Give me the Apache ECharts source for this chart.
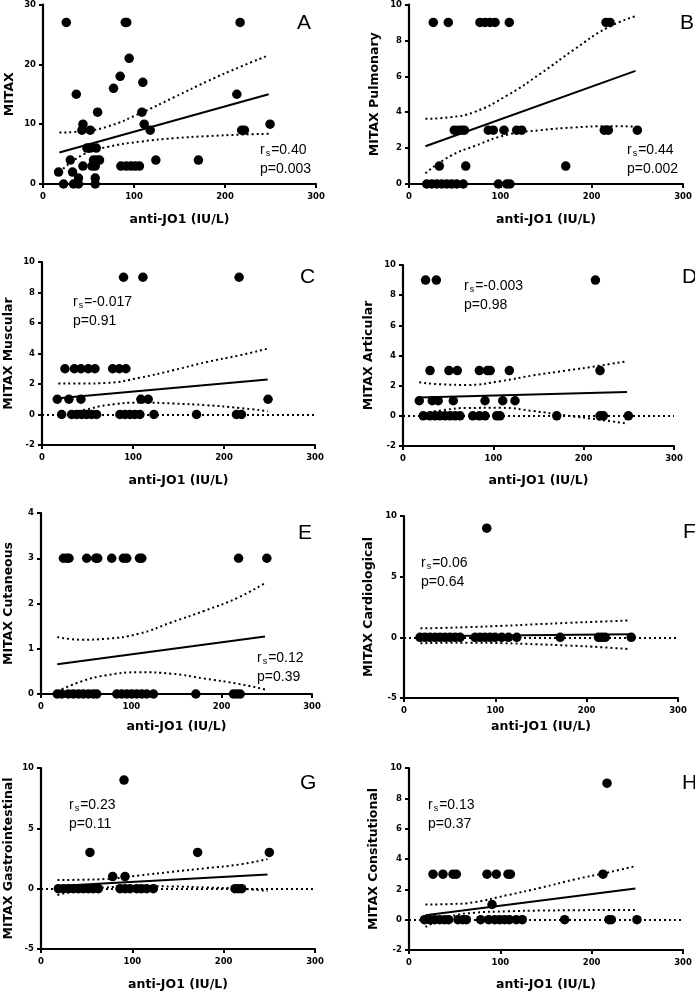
<!DOCTYPE html>
<html><head><meta charset="utf-8">
<script src="https://cdn.jsdelivr.net/npm/echarts@6/dist/echarts.min.js"></script>
<style>html,body{margin:0;padding:0;background:#fff}#c{width:695px;height:992px}</style>
</head><body><div id="c"></div>
<script>
// ---------- DATA ----------
const xTitle = 'anti-JO1 (IU/L)';
const bandX = [18, 45, 71, 108, 144, 181, 217, 248];
const fitX = [18, 248];

// A: MITAX
const aPoints = [[25.6,27],[90.4,27],[92,27],[216.6,27],[94.7,21],[84.8,18],[109.7,17],[77.5,16],[36.6,15],[213,15],
  [60,12],[108.7,12],[43.9,10],[111.2,10],[249.5,10],[42.8,9],[51.9,9],[117.8,9],[218.4,9],[221.3,9],
  [48.3,6],[51.9,6],[58.5,6],[30,4],[55.5,4],[59.3,4],[62.1,4],[124,4],[170.8,4],
  [43.9,3],[53.8,3],[57.4,3],[85.6,3],[91.4,3],[96.6,3],[101.3,3],[106,3],
  [17.1,2],[32.5,2],[39,1],[57.4,1],[22.6,0],[33.6,0],[39,0],[57.4,0]];
const aFit = [5.25, 15.0];
const aUpper = [8.6, 8.85, 9.6, 11.9, 14.5, 17.2, 19.6, 21.5];
const aLower = [2.0, 5.0, 6.2, 7.1, 7.65, 8.0, 8.25, 8.4];

// B: MITAX Pulmonary
const bPoints = [[26.6,9],[43,9],[77.7,9],[83.2,9],[88.7,9],[94.2,9],[109.8,9],[215.7,9],[220.1,9],
  [49.6,3],[54,3],[57.7,3],[60.6,3],[86.8,3],[92.3,3],[104,3],[117.9,3],[123.4,3],[213.8,3],[218.2,3],[250,3],
  [33.2,1],[62.1,1],[171.6,1],
  [19.4,0],[24.9,0],[30.3,0],[35.8,0],[41.3,0],[46.8,0],[52.2,0],[59.4,0],[97.8,0],[107,0],[110.6,0]];
const bFit = [2.1, 6.3];
const bUpper = [3.63, 3.72, 4.0, 4.95, 6.15, 7.5, 8.7, 9.35];
const bLower = [0.6, 1.55, 2.1, 2.75, 3.0, 3.15, 3.22, 3.2];

// C: MITAX Muscular
const cPoints = [[89.6,9],[110.9,9],[216.6,9],
  [25.2,3],[35.5,3],[42.8,3],[50.8,3],[58.2,3],[77.6,3],[84.9,3],[92.2,3],
  [16.8,1],[29.6,1],[42.8,1],[108.7,1],[116.7,1],[248.4,1],
  [21.6,0],[32.6,0],[38.1,0],[43.6,0],[49.1,0],[54.6,0],[60,0],[85.6,0],[91.1,0],[96.6,0],[102,0],[107.6,0],[123,0],[169.8,0],[213.7,0],[219.2,0]];
const cFit = [1.06, 2.29];
const cUpper = [2.03, 2.03, 2.07, 2.42, 2.9, 3.44, 3.88, 4.32];
const cLower = [0.05, 0.28, 0.61, 0.78, 0.72, 0.61, 0.43, 0.22];

// D: MITAX Articular
const dPoints = [[25,9],[36.9,9],[213,9],
  [29.9,3],[50.9,3],[60.1,3],[84.5,3],[93.5,3],[96.5,3],[117.7,3],[218.1,3],
  [18,1],[32.4,1],[39,1],[55.7,1],[90.8,1],[110.4,1],[124,1],
  [22.5,0],[29.9,0],[35.4,0],[40.9,0],[46.5,0],[52,0],[57.6,0],[63.1,0],[77.2,0],[84.5,0],[90.8,0],[103.7,0],[107.4,0],[170.2,0],[218.1,0],[221.8,0],[249.5,0]];
const dFit = [1.21, 1.58];
const dUpper = [2.22, 2.08, 2.05, 2.3, 2.68, 3.0, 3.32, 3.62];
const dLower = [0.1, 0.38, 0.52, 0.53, 0.32, 0.02, -0.25, -0.52];

// E: MITAX Cutaneous
const ePoints = [[24.8,3],[28.5,3],[31,3],[50.6,3],[60.6,3],[62.8,3],[78.3,3],[91.2,3],[94.9,3],[109,3],[111.6,3],[218.7,3],[250,3],
  [18,0],[23,0],[30.3,0],[35.8,0],[41.4,0],[46.9,0],[52.5,0],[58,0],[61.7,0],[83.9,0],[89.4,0],[95,0],[100.5,0],[106,0],[111.6,0],[117,0],[124.5,0],[171.4,0],[213,0],[216.8,0],[220.5,0]];
const eFit = [0.66, 1.27];
const eUpper = [1.26, 1.2, 1.22, 1.33, 1.58, 1.84, 2.12, 2.45];
const eLower = [0.06, 0.28, 0.41, 0.48, 0.45, 0.34, 0.23, 0.1];

// F: MITAX Cardiological
const fPoints = [[90.6,9],
  [17.5,0],[23,0],[28.5,0],[34,0],[39.5,0],[45,0],[50.4,0],[56,0],[61.4,0],[77.8,0],[83.3,0],[88.8,0],[94.3,0],[99.7,0],[107,0],[114.4,0],[123.5,0],[171,0],[213,0],[216.7,0],[220.3,0],[248.8,0]];
const fFit = [0.08, 0.25];
const fUpper = [0.74, 0.78, 0.84, 0.95, 1.07, 1.2, 1.3, 1.4];
const fLower = [-0.49, -0.45, -0.44, -0.48, -0.57, -0.68, -0.82, -0.98];

// G: MITAX Gastrointestinal
const gPoints = [[90.9,9],[53.6,3],[171.5,3],[250,3],[78.5,1],[92,1],
  [19,0],[24.5,0],[30,0],[35.4,0],[40.9,0],[46.4,0],[51.8,0],[57.3,0],[62.8,0],[86.5,0],[92,0],[97.4,0],[104.7,0],[110,0],[115.7,0],[123,0],[212.4,0],[216,0],[219.7,0]];
const gFit = [0.22, 1.18];
const gUpper = [0.72, 0.74, 0.8, 1.1, 1.4, 1.7, 2.0, 2.45];
const gLower = [-0.52, -0.1, 0.1, 0.2, 0.18, 0.1, 0.0, -0.19];

// H: MITAX Consitutional
const hPoints = [[216.8,9],
  [26.3,3],[37.2,3],[48.2,3],[51.8,3],[85.4,3],[95.6,3],[108.4,3],[111,3],[212.4,3],
  [90.9,1],
  [17,0],[22.6,0],[28,0],[33.6,0],[39,0],[43.4,0],[53.6,0],[59,0],[62.8,0],[78.5,0],[87.2,0],[93.8,0],[99.3,0],[104.7,0],[110,0],[117.5,0],[124,0],[170.4,0],[219,0],[221.5,0],[249.6,0]];
const hFit = [0.29, 2.06];
const hUpper = [1.0, 1.03, 1.15, 1.62, 2.1, 2.65, 3.1, 3.53];
const hLower = [-0.48, 0.2, 0.45, 0.55, 0.6, 0.62, 0.64, 0.64];

const yTitles = ['MITAX','MITAX Pulmonary','MITAX Muscular','MITAX Articular','MITAX Cutaneous','MITAX Cardiological','MITAX Gastrointestinal','MITAX Consitutional'];
const letters = ['A','B','C','D','E','F','G','H'];
const rsTexts = ['0.40','0.44','-0.017','-0.003','0.12','0.06','0.23','0.13'];
const pTexts = ['0.003','0.002','0.91','0.98','0.39','0.64','0.11','0.37'];
const yRanges = [[0,30,10],[0,10,2],[-2,10,2],[-2,10,2],[0,4,1],[-5,10,5],[-5,10,5],[-2,10,2]];

// ---------- LAYOUT ----------
const panels = [
  {pts:aPoints, fit:aFit, up:aUpper, lo:aLower, grid:{left:43,top:3,width:273,height:181}, yGap:27, xGap:29, zero:false, letter:[297,23], stats:[260,150]},
  {pts:bPoints, fit:bFit, up:bUpper, lo:bLower, grid:{left:409,top:3,width:274,height:181}, yGap:28, xGap:29, zero:false, letter:[680,23], stats:[627,150]},
  {pts:cPoints, fit:cFit, up:cUpper, lo:cLower, grid:{left:42,top:262,width:273,height:183}, yGap:27, xGap:29, zero:true, letter:[300,277], stats:[73,302]},
  {pts:dPoints, fit:dFit, up:dUpper, lo:dLower, grid:{left:403,top:265,width:271,height:181}, yGap:28, xGap:28, zero:true, letter:[682,277], stats:[464,286]},
  {pts:ePoints, fit:eFit, up:eUpper, lo:eLower, grid:{left:41,top:513,width:271,height:181}, yGap:26, xGap:26, zero:false, letter:[298,533], stats:[257,658]},
  {pts:fPoints, fit:fFit, up:fUpper, lo:fLower, grid:{left:404,top:516,width:274,height:182}, yGap:29, xGap:22, zero:true, letter:[683,532], stats:[421,563]},
  {pts:gPoints, fit:gFit, up:gUpper, lo:gLower, grid:{left:41,top:768,width:274,height:182}, yGap:26, xGap:29, zero:true, letter:[300,783], stats:[69,805]},
  {pts:hPoints, fit:hFit, up:hUpper, lo:hLower, grid:{left:409,top:768,width:274,height:183}, yGap:29, xGap:28, zero:true, letter:[682,783], stats:[428,805]}
];

const TF = 'DejaVu Sans';
const axisCommon = {
  axisLine:{onZero:false, lineStyle:{color:'#000', width:2.2}},
  axisTick:{show:true, length:4, lineStyle:{color:'#000', width:2}},
  splitLine:{show:false},
  nameLocation:'middle',
  nameTextStyle:{fontFamily:TF, fontWeight:'bold', fontSize:12.5, color:'#000'}
};
const dotStyle = {color:'#000', width:2, type:[2,3]};

const grids=[], xAxes=[], yAxes=[], series=[], graphics=[];
panels.forEach((p,i)=>{
  grids.push(Object.assign({containLabel:false}, p.grid));
  xAxes.push(Object.assign({}, axisCommon, {gridIndex:i, type:'value', min:0, max:300, interval:100,
    name:xTitle, nameGap:p.xGap,
    axisLabel:{fontFamily:TF, fontWeight:'bold', fontSize:8.5, color:'#000', margin:8}}));
  const yr = yRanges[i];
  yAxes.push(Object.assign({}, axisCommon, {gridIndex:i, type:'value', min:yr[0], max:yr[1], interval:yr[2],
    name:yTitles[i], nameGap:p.yGap,
    axisLabel:{fontFamily:TF, fontWeight:'bold', fontSize:8.5, color:'#000', margin:7}}));
  series.push({type:'line', xAxisIndex:i, yAxisIndex:i, data:bandX.map((x,k)=>[x,p.up[k]]), smooth:true, showSymbol:false, symbol:'none', lineStyle:dotStyle, silent:true, z:2});
  series.push({type:'line', xAxisIndex:i, yAxisIndex:i, data:bandX.map((x,k)=>[x,p.lo[k]]), smooth:true, showSymbol:false, symbol:'none', lineStyle:dotStyle, silent:true, z:2});
  series.push({type:'line', xAxisIndex:i, yAxisIndex:i, data:fitX.map((x,k)=>[x,p.fit[k]]), showSymbol:false, symbol:'none', lineStyle:{color:'#000', width:2}, silent:true, z:3});
  const sc = {type:'scatter', xAxisIndex:i, yAxisIndex:i, data:p.pts, symbolSize:9.5, itemStyle:{color:'#000', opacity:1}, silent:true, z:4};
  if (p.zero) sc.markLine = {silent:true, symbol:'none', label:{show:false}, lineStyle:dotStyle, data:[{yAxis:0}], z:1};
  series.push(sc);
  graphics.push({type:'text', x:p.letter[0], y:p.letter[1], silent:true,
    style:{text:letters[i], fill:'#000', font:'21px "Liberation Sans"', align:'left', verticalAlign:'middle'}});
  graphics.push({type:'text', x:p.stats[0], y:p.stats[1], silent:true,
    style:{text:'r{s|s}=' + rsTexts[i], fill:'#000', font:'14px "Liberation Sans"', align:'left', verticalAlign:'middle',
      rich:{s:{fontSize:9, fontFamily:'Liberation Sans', fill:'#000', padding:[8,1,0,1]}}}});
  graphics.push({type:'text', x:p.stats[0], y:p.stats[1]+19, silent:true,
    style:{text:'p=' + pTexts[i], fill:'#000', font:'14px "Liberation Sans"', align:'left', verticalAlign:'middle'}});
});

const chart = echarts.init(document.getElementById('c'), null, {renderer:'canvas'});
chart.setOption({animation:false, backgroundColor:'#fff', grid:grids, xAxis:xAxes, yAxis:yAxes, series:series, graphic:graphics});
</script></body></html>
